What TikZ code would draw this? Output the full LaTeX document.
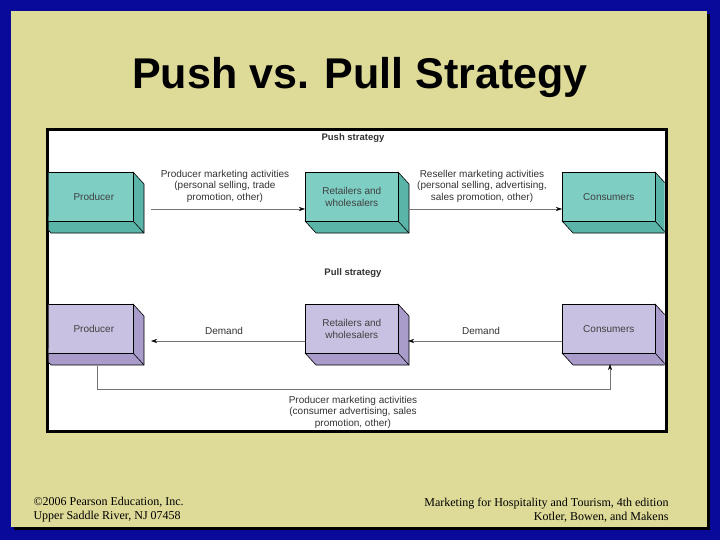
\documentclass[tikz,border=0pt]{standalone}
\usepackage{fontspec}
\setmainfont{Liberation Sans}
\newfontfamily\tnr{Liberation Serif}
\usetikzlibrary{arrows.meta}
\definecolor{slide}{HTML}{DEDA98}
\definecolor{rim}{HTML}{0A0A9A}
\definecolor{tealF}{HTML}{7ECEC4}
\definecolor{tealS}{HTML}{5AB4A8}
\definecolor{purF}{HTML}{C9C1E1}
\definecolor{purS}{HTML}{A99CCB}
\tikzset{
 face/.style={draw=black,line width=0.6pt,minimum width=93pt,minimum height=49pt,inner sep=0pt,font=\fontsize{10}{11.5}\selectfont,align=center,text=black!75},
 lab/.style={font=\fontsize{10}{11.5}\selectfont,align=center,text=black!80},
 conn/.style={draw=black!55,line width=0.5pt,-{Stealth[length=6pt,width=4pt,black]}},
}
\newcommand{\mybox}[6]{% name, x, y, front, side, text
 \fill[#5,draw=black,line width=0.6pt] (#2+93,#3) -- ++(11,12) -- ++(0,49) -- ++(-93,0) -- ++(-11,-12) -- cycle;
 \draw[line width=0.6pt] (#2+93,#3+49) -- ++(11,12);
 \node[face,fill=#4,anchor=north west] (#1) at (#2,#3) {#6};
}
\begin{document}
\begin{tikzpicture}[x=1pt,y=-1pt]
\useasboundingbox (0,0) rectangle (720,540);
\fill[rim] (0,0) rectangle (720,540);
\fill[black] (14,14) rectangle (710,530);
\fill[slide] (11,11) rectangle (707,527);
\node[font=\bfseries\fontsize{43}{48}\selectfont] (title) at (360,77) {Push vs. Pull Strategy};
\fill[white,draw=black,line width=3pt] (47,130) rectangle (666,431);
\begin{scope}
\clip (48.5,131.5) rectangle (664.5,429.5);
\mybox{p1}{40}{172}{tealF}{tealS}{\hspace*{14pt}Producer}
\mybox{r1}{305}{172}{tealF}{tealS}{Retailers and\\wholesalers}
\mybox{c1}{562}{172}{tealF}{tealS}{Consumers}
\mybox{p2}{40}{304}{purF}{purS}{\hspace*{14pt}Producer}
\mybox{r2}{305}{304}{purF}{purS}{Retailers and\\wholesalers}
\mybox{c2}{562}{304}{purF}{purS}{Consumers}
\end{scope}
\node[lab,font=\bfseries\fontsize{9.5}{11}\selectfont] (push) at (353,138) {Push strategy};
\node[lab,font=\bfseries\fontsize{9.5}{11}\selectfont] (pull) at (353,273) {Pull strategy};
\coordinate (a1) at (151,209); \coordinate (a2) at (408,209);
\draw[conn] (a1) -- (r1.west|-a1);
\draw[conn] (a2) -- (c1.west|-a2);
\coordinate (d1) at (151,341); \coordinate (d2) at (408,341);
\draw[conn] (r2.west|-d1) -- (d1);
\draw[conn] (c2.west|-d2) -- (d2);
\coordinate (b1) at (97,366); \coordinate (b2) at (610,389); \coordinate (b3) at (610,364);
\draw[conn] (b1) |- (b2) -- (b3);
\node[lab] (l1) at (225,186) {Producer marketing activities\\(personal selling, trade\\promotion, other)};
\node[lab] (l2) at (482,186) {Reseller marketing activities\\(personal selling, advertising,\\sales promotion, other)};
\node[lab] (l3) at (224,331) {Demand};
\node[lab] (l4) at (481,331) {Demand};
\node[lab] (l5) at (353,412) {Producer marketing activities\\(consumer advertising, sales\\promotion, other)};
\node[font=\tnr\fontsize{12}{14}\selectfont,align=left,anchor=west] (f1) at (30,510) {©2006 Pearson Education, Inc.\\Upper Saddle River, NJ 07458};
\node[font=\tnr\fontsize{12}{14}\selectfont,align=right,anchor=east] (f2) at (672,510) {Marketing for Hospitality and Tourism, 4th edition\\Kotler, Bowen, and Makens};
\end{tikzpicture}
\end{document}
